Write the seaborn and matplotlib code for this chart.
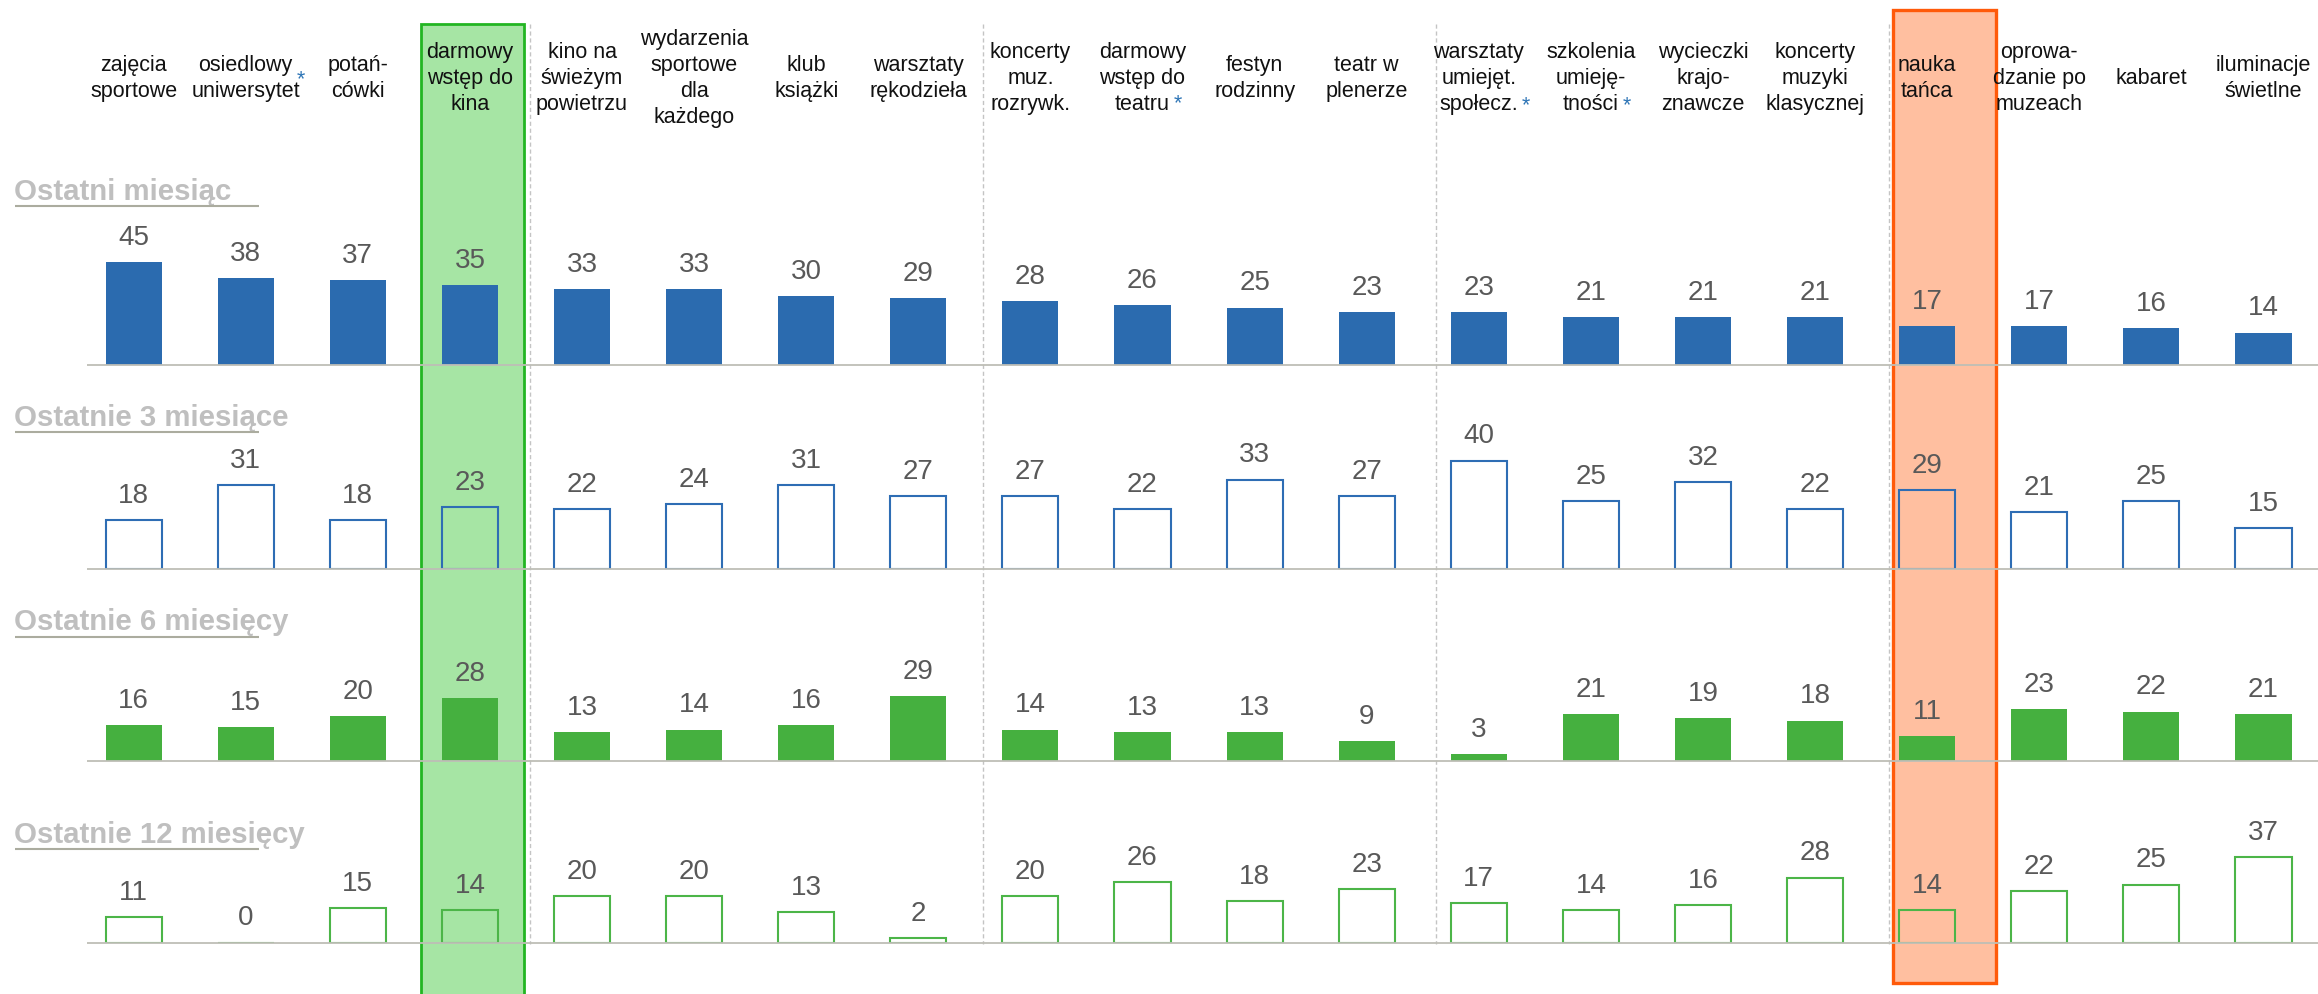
import matplotlib
matplotlib.use("Agg")
import matplotlib.pyplot as plt
from matplotlib.patches import Rectangle
import pandas as pd
import seaborn as sns

# ---- data -------------------------------------------------------------
categories = [
    "zajęcia\nsportowe", "osiedlowy\nuniwersytet", "potań-\ncówki",
    "darmowy\nwstęp do\nkina", "kino na\nświeżym\npowietrzu",
    "wydarzenia\nsportowe\ndla\nkażdego", "klub\nksiążki",
    "warsztaty\nrękodzieła", "koncerty\nmuz.\nrozrywk.",
    "darmowy\nwstęp do\nteatru", "festyn\nrodzinny", "teatr w\nplenerze",
    "warsztaty\numiejęt.\nspołecz.", "szkolenia\numieję-\ntności",
    "wycieczki\nkrajo-\nznawcze", "koncerty\nmuzyki\nklasycznej",
    "nauka\ntańca", "oprowa-\ndzanie po\nmuzeach", "kabaret",
    "iluminacje\nświetlne",
]
last_month = [45, 38, 37, 35, 33, 33, 30, 29, 28, 26, 25, 23, 23, 21, 21, 21, 17, 17, 16, 14]
last_3_months = [18, 31, 18, 23, 22, 24, 31, 27, 27, 22, 33, 27, 40, 25, 32, 22, 29, 21, 25, 15]
last_6_months = [16, 15, 20, 28, 13, 14, 16, 29, 14, 13, 13, 9, 3, 21, 19, 18, 11, 23, 22, 21]
last_12_months = [11, 0, 15, 14, 20, 20, 13, 2, 20, 26, 18, 23, 17, 14, 16, 28, 14, 22, 25, 37]
row_titles = ["Ostatni miesiąc", "Ostatnie 3 miesiące",
              "Ostatnie 6 miesięcy", "Ostatnie 12 miesięcy"]

# footnote marks: category index -> (label line carrying the mark, vertical shift px)
starred = {1: (0, 7), 9: (2, -7), 12: (2, -5), 13: (2, -5)}
highlight_green = 3
highlight_orange = 16
group_breaks = [3.54, 7.58, 11.62, 15.66]

# ---- layout -----------------------------------------------------------
W, H = 2318, 994
FIRST_PX, STEP_PX = 133.6, 112.1


def cx(px):
    return (px - FIRST_PX) / STEP_PX


XLIM = (cx(0), cx(W))

sns.set_theme(style="white")
plt.rcParams["font.family"] = ["Liberation Sans", "DejaVu Sans"]

fig = plt.figure(figsize=(W / 100, H / 100), dpi=100)
bg = fig.add_axes([0, 0, 1, 1], zorder=0)
bg.set_xlim(*XLIM)
bg.set_ylim(H, 0)
bg.set_axis_off()

# highlighted columns
bg.add_patch(Rectangle((highlight_green - 0.436, 24), 0.919, 1000,
                       facecolor="#A6E5A4", edgecolor="#22B522", lw=2.0, zorder=1))
bg.add_patch(Rectangle((highlight_orange - 0.305, 10), 0.923, 973,
                       facecolor="#FFBFA0", edgecolor="#FF5A0A", lw=2.4, zorder=1))

# dashed group separators
bg.vlines(group_breaks, 24, 944, colors="#C4C4C4", linestyles=(0, (3, 2)),
          lw=1.0, zorder=1)

# column headers, one text per line so the footnote marks sit beside them
HEAD_Y, HEAD_FS, LINE_PX = 78.5, 15.5, 25.7
renderer = fig.canvas.get_renderer()
fs_px = HEAD_FS * 100 / 72
for i, lab in enumerate(categories):
    lines = lab.split("\n")
    for k, line in enumerate(lines):
        y_line = HEAD_Y + (k - (len(lines) - 1) / 2) * LINE_PX
        t = bg.text(i, y_line, line, ha="center", va="center",
                    fontsize=HEAD_FS, color="#111111", zorder=5)
        if i in starred and starred[i][0] == k:
            dy = starred[i][1]
            w = t.get_window_extent(renderer).width
            x_px = FIRST_PX + STEP_PX * i + w / 2 + 8
            y_base = y_line + dy + 0.58 * fs_px
            bg.text(cx(x_px), y_base, "*", ha="center", va="baseline",
                    fontsize=HEAD_FS, color="#2E75B6", zorder=5)

# ---- rows ---------------------------------------------------------------
rows = [
    (row_titles[0], last_month, "#2B6BAF", True, 364.5, 2.28, 200, 206),
    (row_titles[1], last_3_months, "#2E6DB4", False, 569, 2.71, 426, 432),
    (row_titles[2], last_6_months, "#45B03F", True, 761, 2.25, 630.5, 636.5),
    (row_titles[3], last_12_months, "#4CB548", False, 942.5, 2.32, 843, 849),
]

AX_H = 150
for title, vals, color, filled, base, ppu, title_y, rule_y in rows:
    bg.text(cx(14), title_y, title, ha="left", va="baseline", fontsize=21.2,
            fontweight="bold", color="#BFBFBF", zorder=5)
    bg.hlines(rule_y, cx(15), cx(259), colors="#ABAC9F", lw=1.5, zorder=5)

    ax = fig.add_axes([0, (H - base) / H, 1, AX_H / H], zorder=2)
    df = pd.DataFrame({"kat": categories, "val": vals})
    if filled:
        sns.barplot(data=df, x="kat", y="val", order=categories, color=color,
                    saturation=1, width=0.5, errorbar=None, linewidth=0, ax=ax)
    else:
        sns.barplot(data=df, x="kat", y="val", order=categories, color=color,
                    saturation=1, width=0.5, errorbar=None, fill=False,
                    linewidth=1.5, ax=ax)
    ax.set_xlim(*XLIM)
    ax.set_ylim(0, AX_H / ppu)
    ax.set_axis_off()
    ax.hlines(0, cx(87), XLIM[1], colors="#BEBEB6", lw=1.3, zorder=4,
              clip_on=False)
    for cont in ax.containers:
        ax.bar_label(cont, fmt="%d", padding=8, fontsize=20, color="#595959")

fig.savefig("out.png", dpi=100)
